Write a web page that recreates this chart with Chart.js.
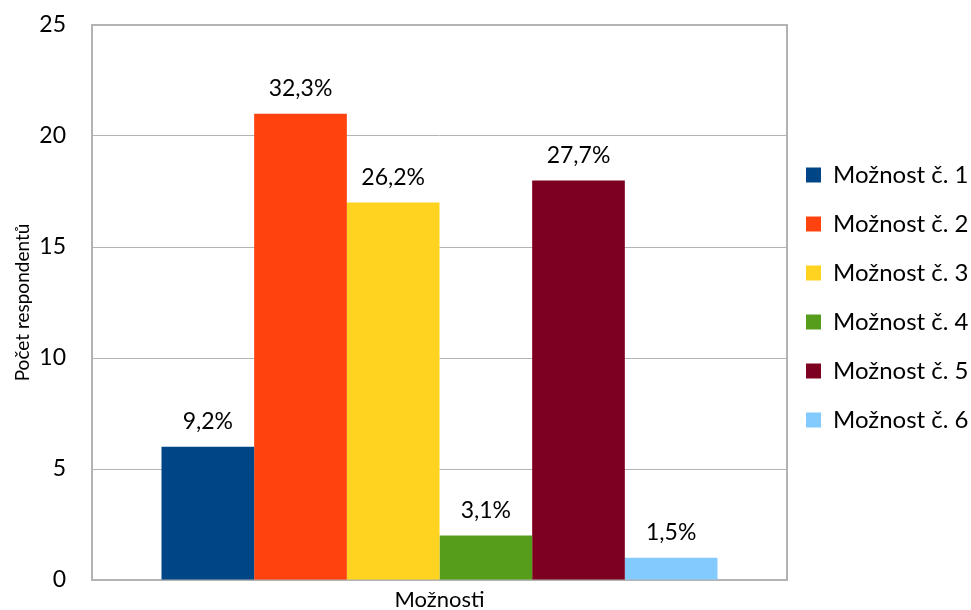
<!DOCTYPE html>
<html>
<head>
<meta charset="utf-8">
<script src="https://cdn.jsdelivr.net/npm/chart.js@4/dist/chart.umd.min.js"></script>
<style>
html,body{margin:0;padding:0;background:#fff;}
#wrap{width:971px;height:610px;position:relative;}
</style>
</head>
<body>
<div id="wrap"><canvas id="c" width="971" height="610"></canvas></div>
<script>
const categories = ['Možnosti'];
const seriesNames = ['Možnost č. 1','Možnost č. 2','Možnost č. 3','Možnost č. 4','Možnost č. 5','Možnost č. 6'];
const seriesValues = [6, 21, 17, 2, 18, 1];
const valueLabels = ['9,2%','32,3%','26,2%','3,1%','27,7%','1,5%'];
const seriesColors = ['#004586','#FF420E','#FFD320','#579D1C','#7E0021','#83CAFF'];
const yTicks = [0,5,10,15,20,25];

const FONT = "Lato, 'Open Sans', sans-serif";

const datasets = seriesNames.map((n,i)=>({
  label: n,
  data: [seriesValues[i]],
  backgroundColor: seriesColors[i],
  borderWidth: 0,
  categoryPercentage: 0.8,
  barPercentage: 1.0
}));

const legendTweak = {
  id:'legendTweak',
  afterInit(chart){
    const lg = chart.legend;
    if(!lg) return;
    const orig = lg.fit.bind(lg);
    lg.fit = function(){
      orig();
      this.width = 184;
    };
  },
  afterLayout(chart){
    const lg = chart.legend;
    if(!lg) return;
    lg.left -= 6;
    lg.top -= 5; lg.bottom -= 5;
  }
};

const plotBorder = {
  id:'plotBorder',
  beforeDatasetsDraw(chart){
    const a = chart.chartArea, ctx = chart.ctx;
    ctx.save();
    ctx.strokeStyle = '#B3B3B3';
    ctx.lineWidth = 2;
    ctx.strokeRect(a.left, a.top, a.right-a.left, a.bottom-a.top);
    ctx.restore();
  }
};

const dataLabels = {
  id:'dataLabels',
  afterDatasetsDraw(chart){
    const ctx = chart.ctx;
    ctx.save();
    ctx.font = "23px " + FONT;
    ctx.fillStyle = '#000';
    ctx.textAlign = 'center';
    ctx.textBaseline = 'middle';
    chart.data.datasets.forEach((ds,i)=>{
      const meta = chart.getDatasetMeta(i);
      meta.data.forEach(el=>{
        ctx.fillText(valueLabels[i], el.x, el.y - 25);
      });
    });
    ctx.restore();
  }
};

new Chart(document.getElementById('c'), {
  type:'bar',
  data:{ labels: categories, datasets },
  plugins:[legendTweak, plotBorder, dataLabels],
  options:{
    responsive:false,
    animation:false,
    layout:{ padding:{ top:25, right:0, bottom:0, left:0 } },
    plugins:{
      legend:{
        position:'right',
        fullSize:false,
        labels:{
          font:{ family:FONT, size:24 },
          color:'#000',
          boxWidth:15,
          boxHeight:15,
          padding:25
        }
      },
      tooltip:{ enabled:false }
    },
    scales:{
      x:{
        grid:{ display:false, drawTicks:false },
        border:{ display:false },
        ticks:{ font:{ family:FONT, size:22 }, color:'#000', padding:7 },
        afterFit(s){ s.height = 30; }
      },
      y:{
        min:0, max:25,
        afterBuildTicks(s){ s.ticks = yTicks.map(v=>({value:v})); },
        grid:{ color:'#B3B3B3', lineWidth:1, drawTicks:false },
        border:{ display:false },
        ticks:{ font:{ family:FONT, size:23 }, color:'#000', padding:26 },
        title:{ display:true, text:'Počet respondentů', font:{ family:FONT, size:19 }, color:'#000', padding:{top:11,bottom:0} },
        afterFit(s){ s.width = 92; s.paddingTop = 0; s.paddingBottom = 0; }
      }
    }
  }
});
</script>
</body>
</html>
